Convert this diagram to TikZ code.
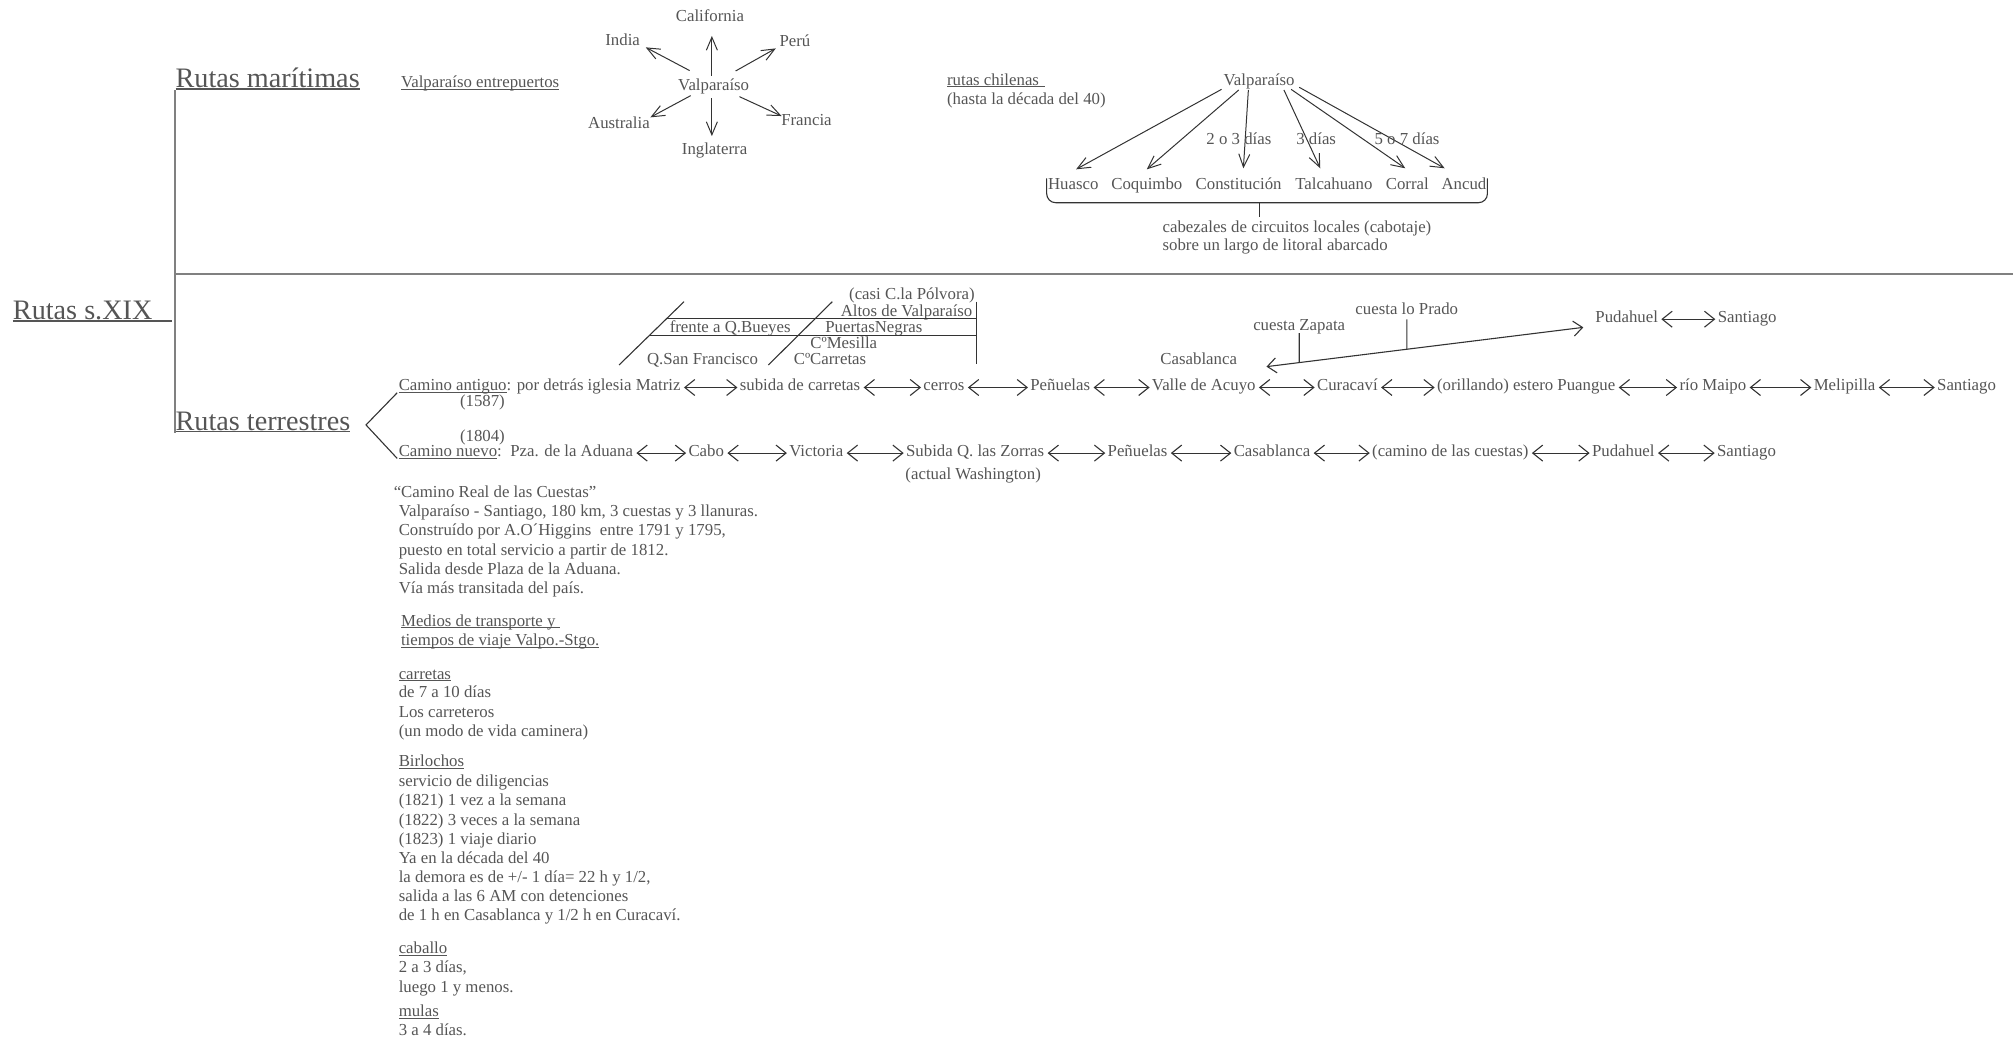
\documentclass[tikz,border=0pt]{standalone}
\usepackage{fontspec}
\setmainfont{Liberation Serif}
\usetikzlibrary{arrows.meta,calc}
\definecolor{txt}{HTML}{555555}
\definecolor{lin}{HTML}{333333}
\definecolor{tree}{HTML}{808080}
\newcommand\fs{\fontsize{8.4}{10}\selectfont}
\newcommand\fb{\fontsize{14.1}{17}\selectfont}
\newcommand\myul[1]{\setbox0\hbox{#1}\rlap{\rule[-1.1pt]{\wd0}{0.45pt}}\box0}
\newcommand\myulb[1]{\setbox0\hbox{#1}\rlap{\rule[-1.2pt]{\wd0}{0.7pt}}\box0}
\begin{document}
\begin{tikzpicture}[x=0.6419pt,y=-0.6419pt,
 tl/.style={inner sep=0pt,anchor=base west,font=\fs,text=txt,text height=5.5pt,text depth=2.2pt},
 tc/.style={inner sep=0pt,anchor=base,font=\fs,text=txt,text height=5.5pt,text depth=2.2pt},
 tr/.style={inner sep=0pt,anchor=base east,font=\fs,text=txt,text height=5.5pt,text depth=2.2pt},
 big/.style={inner sep=0pt,anchor=base west,font=\fb,text=txt},
 arr/.style={draw=lin,line width=0.5pt,-{Straight Barb[length=6.5pt,width=5.5pt]}},
 dbl/.style={draw=lin,line width=0.55pt,{Straight Barb[length=5pt,width=8pt]}-{Straight Barb[length=5pt,width=8pt]},shorten <=1.5pt,shorten >=1pt},
 lng/.style={draw=lin,line width=0.55pt,{Straight Barb[length=4.5pt,width=7.5pt]}-{Straight Barb[length=4.5pt,width=7.5pt]}},
 treeline/.style={draw=tree,line width=0.9pt},
 thin/.style={draw=lin,line width=0.55pt}]
\useasboundingbox (0,0) rectangle (1568,809);

% ---------- tree ----------
\node[big] (root) at (9.8,248.7) {\myulb{Rutas s.XIX\kern9.6pt}};
\node[big] (mar) at (136.5,68) {\myulb{Rutas marítimas}};
\node[big] (ter) at (136.5,335) {\myulb{Rutas terrestres}};
\coordinate (hr) at (1568,213.4);
\draw[treeline] (mar.south west) -- (ter.south west);
\draw[treeline] (mar.south west |- hr) -- (hr);

% ---------- maritime: star ----------
\node[tl] (ent) at (312.1,68.4) {\myul{Valparaíso entrepuertos}};
\node[tc] (v1) at (555.9,70.2) {Valparaíso};
\node[tc] (cal) at (553,16.5) {California};
\node[tc] (ind) at (485,35.2) {India};
\node[tc] (per) at (619.2,35.9) {Perú};
\node[tc] (aus) at (482.1,100.1) {Australia};
\node[tc] (fra) at (628.2,98) {Francia};
\node[tc] (ing) at (556.6,120.1) {Inglaterra};
\draw[arr] ([shift={(-1.4,-11)}]v1.base) -- ([shift={(1.5,11.5)}]cal.base);
\draw[arr] ([shift={(-18.7,-15.2)}]v1.base) -- ([shift={(18,1.7)}]ind.base);
\draw[arr] ([shift={(17.1,-14.9)}]v1.base) -- ([shift={(-14.9,1.8)}]per.base);
\draw[arr] ([shift={(-17.9,4.3)}]v1.base) -- ([shift={(24.5,-8.7)}]aus.base);
\draw[arr] ([shift={(-1.4,6.4)}]v1.base) -- ([shift={(-2.1,-14.1)}]ing.base);
\draw[arr] ([shift={(20.1,5.1)}]v1.base) -- ([shift={(-19.4,-7.6)}]fra.base);

% ---------- maritime: chilean routes ----------
\node[tl] (rch) at (737.4,66.3) {\myul{rutas chilenas\kern2.8pt}};
\node[tl] (hst) at (737.4,81.4) {(hasta la década del 40)};
\node[tc] (v2) at (980.8,66.3) {Valparaíso};
\node[tc] (hua) at (836,148) {Huasco};
\node[tc] (coq) at (893.3,148) {Coquimbo};
\node[tc] (con) at (964.8,148) {Constitución};
\node[tc] (tal) at (1039,148) {Talcahuano};
\node[tc] (cor) at (1096.2,148) {Corral};
\node[tc] (anc) at (1140.3,148) {Ancud};
\draw[arr] ([shift={(-29.3,3.3)}]v2.base) -- ([shift={(2.2,-16.1)}]hua.base);
\draw[arr] ([shift={(-15.9,3.8)}]v2.base) -- ([shift={(0,-16.1)}]coq.base);
\draw[arr] ([shift={(-8.4,3.8)}]v2.base) -- ([shift={(3.7,-16.9)}]con.base);
\draw[arr] ([shift={(19.3,3.8)}]v2.base) -- ([shift={(-10.6,-16.9)}]tal.base);
\draw[arr] ([shift={(24.9,3.3)}]v2.base) -- ([shift={(-1.6,-16.9)}]cor.base);
\draw[arr] ([shift={(31.2,1.7)}]v2.base) -- ([shift={(-15,-16.9)}]anc.base);
\node[tc] (d1) at (965,112.5) {2 o 3 días};
\node[tc] (d2) at (1025.2,112.5) {3 días};
\node[tc] (d3) at (1096,112.5) {5 o 7 días};
\draw[thin,rounded corners=4.5pt] (815.3,139) -- (815.3,157.9) -- (1158.6,157.9) -- (1158.6,139);
\node[tl] (cb1) at (905.3,181.3) {cabezales de circuitos locales (cabotaje)};
\node[tl] (cb2) at (905.3,195.4) {sobre un largo de litoral abarcado};
\draw[thin] (981.2,157.9) -- (981.2,169.3);

% ---------- land routes ----------
\coordinate (apex) at (285.1,331);
\node[tl] (ca) at (310.3,304.4) {\myul{Camino antiguo}: por detrás iglesia Matriz};
\node[tl] (y1) at (358,316.6) {(1587)};
\node[tl] (y2) at (358,343.8) {(1804)};
\node[tl] (cn) at (310.3,355.5) {\myul{Camino nuevo}:\ \ Pza. de la Aduana};
\draw[thin] ([xshift=-0.6pt,yshift=-1pt]ca.base west) -- (apex) -- ([xshift=-0.6pt,yshift=-1pt]cn.base west);

% upper detail
\node[tr] (pol) at (759.5,233) {(casi C.la Pólvora)};
\node[tr] (alt) at (757.7,246.8) {Altos de Valparaíso};
\node[tl] (fre) at (521.4,259) {frente a Q.Bueyes};
\node[tl] (pne) at (642.6,259) {PuertasNegras};
\node[tl] (mes) at (630.9,271.4) {CºMesilla};
\node[tl] (qsf) at (503.7,283.9) {Q.San Francisco};
\node[tl] (car) at (618,283.9) {CºCarretas};
\draw[thin] (482.2,284.3) -- (532.8,235);
\draw[thin] (598.5,284.3) -- (648.3,235);
\draw[thin] (519.5,248) -- (760.3,248);
\draw[thin] (506.1,261) -- (760.3,261);
\draw[thin] (760.3,235) -- (760.3,283.8);

% old road
\node[tl] (sub) at (576,304.4) {subida de carretas};
\node[tl] (cer) at (719,304.4) {cerros};
\node[tl] (pe1) at (802.3,304.4) {Peñuelas};
\node[tl] (val) at (897,304.4) {Valle de Acuyo};
\node[tl] (cur) at (1025.6,304.4) {Curacaví};
\node[tl] (ori) at (1119.1,304.4) {(orillando) estero Puangue};
\node[tl] (rio) at (1307.9,304.4) {río Maipo};
\node[tl] (mel) at (1412.5,304.4) {Melipilla};
\node[tl] (san1) at (1508.6,304.4) {Santiago};
\draw[dbl] (ca.east) -- (sub.west);
\draw[dbl] (sub.east) -- (cer.west);
\draw[dbl] (cer.east) -- (pe1.west);
\draw[dbl] (pe1.east) -- (val.west);
\draw[dbl] (val.east) -- (cur.west);
\draw[dbl] (cur.east) -- (ori.west);
\draw[dbl] (ori.east) -- (rio.west);
\draw[dbl] (rio.east) -- (mel.west);
\draw[dbl] (mel.east) -- (san1.west);

% cuestas route
\node[tl] (cas1) at (903.6,283.6) {Casablanca};
\node[tc] (zap) at (1012,257.2) {cuesta Zapata};
\node[tc] (pra) at (1095.8,245) {cuesta lo Prado};
\node[tl] (pud1) at (1242.4,251.2) {Pudahuel};
\node[tl] (san0) at (1337.7,251.2) {Santiago};
\draw[dbl] (pud1.east) -- (san0.west);
\coordinate (la) at ([shift={(22.7,2)}]cas1.base east);
\coordinate (lb) at ([shift={(-9.1,3.8)}]pud1.base west);
\draw[lng] (la) -- (lb);
\coordinate (za) at ([yshift=-1.5pt]zap.base);
\coordinate (zb) at ([yshift=-30pt]zap.base);
\coordinate (pa) at ([yshift=-2.4pt]pra.base);
\coordinate (pb) at ([yshift=-30pt]pra.base);
\draw[thin] (za) -- (intersection of la--lb and za--zb);
\draw[thin] (pa) -- (intersection of la--lb and pa--pb);

% new road
\node[tl] (cab) at (536,355.5) {Cabo};
\node[tl] (vic) at (614.5,355.5) {Victoria};
\node[tl] (subz) at (705.5,355.5) {Subida Q. las Zorras};
\node[tl] (was) at (705,373.2) {(actual Washington)};
\node[tl] (pe2) at (862.5,355.5) {Peñuelas};
\node[tl] (cas2) at (960.7,355.5) {Casablanca};
\node[tl] (cam) at (1068.5,355.5) {(camino de las cuestas)};
\node[tl] (pud2) at (1239.8,355.5) {Pudahuel};
\node[tl] (san2) at (1337.2,355.5) {Santiago};
\draw[dbl] (cn.east) -- (cab.west);
\draw[dbl] (cab.east) -- (vic.west);
\draw[dbl] (vic.east) -- (subz.west);
\draw[dbl] (subz.east) -- (pe2.west);
\draw[dbl] (pe2.east) -- (cas2.west);
\draw[dbl] (cas2.east) -- (cam.west);
\draw[dbl] (cam.east) -- (pud2.west);
\draw[dbl] (pud2.east) -- (san2.west);

% ---------- notes ----------
\node[tl] (n1) at (306.4,387.8) {“Camino Real de las Cuestas”};
\node[tl] (n2) at (310.3,402.6) {Valparaíso - Santiago, 180 km, 3 cuestas y 3 llanuras.};
\node[tl] (n3) at (310.3,417.4) {Construído por A.O´Higgins\ \ entre 1791 y 1795,};
\node[tl] (n4) at (310.3,432.4) {puesto en total servicio a partir de 1812.};
\node[tl] (n5) at (310.3,447.2) {Salida desde Plaza de la Aduana.};
\node[tl] (n6) at (310.3,462.3) {Vía más transitada del país.};
\node[tl] (m1) at (312.1,487.7) {\myul{Medios de transporte y\kern2pt}};
\node[tl] (m2) at (312.1,503) {\myul{tiempos de viaje Valpo.-Stgo.}};
\node[tl] (c1) at (310.3,529) {\myul{carretas}};
\node[tl] (c2) at (310.3,543.5) {de 7 a 10 días};
\node[tl] (c3) at (310.3,558.9) {Los carreteros};
\node[tl] (c4) at (310.3,574) {(un modo de vida caminera)};
\node[tl] (b1) at (310.3,597.3) {\myul{Birlochos}};
\node[tl] (b2) at (310.3,612.4) {servicio de diligencias};
\node[tl] (b3) at (310.3,627.2) {(1821) 1 vez a la semana};
\node[tl] (b4) at (310.3,642.7) {(1822) 3 veces a la semana};
\node[tl] (b5) at (310.3,657.5) {(1823) 1 viaje diario};
\node[tl] (b6) at (310.3,672.6) {Ya en la década del 40};
\node[tl] (b7) at (310.3,687.4) {la demora es de +/- 1 día= 22 h y 1/2,};
\node[tl] (b8) at (310.3,702.5) {salida a las 6 AM con detenciones};
\node[tl] (b9) at (310.3,717.3) {de 1 h en Casablanca y 1/2 h en Curacaví.};
\node[tl] (h1) at (310.3,742.7) {\myul{caballo}};
\node[tl] (h2) at (310.3,757.8) {2 a 3 días,};
\node[tl] (h3) at (310.3,773.1) {luego 1 y menos.};
\node[tl] (u1) at (310.3,792) {\myul{mulas}};
\node[tl] (u2) at (310.3,806.8) {3 a 4 días.};
\end{tikzpicture}
\end{document}
